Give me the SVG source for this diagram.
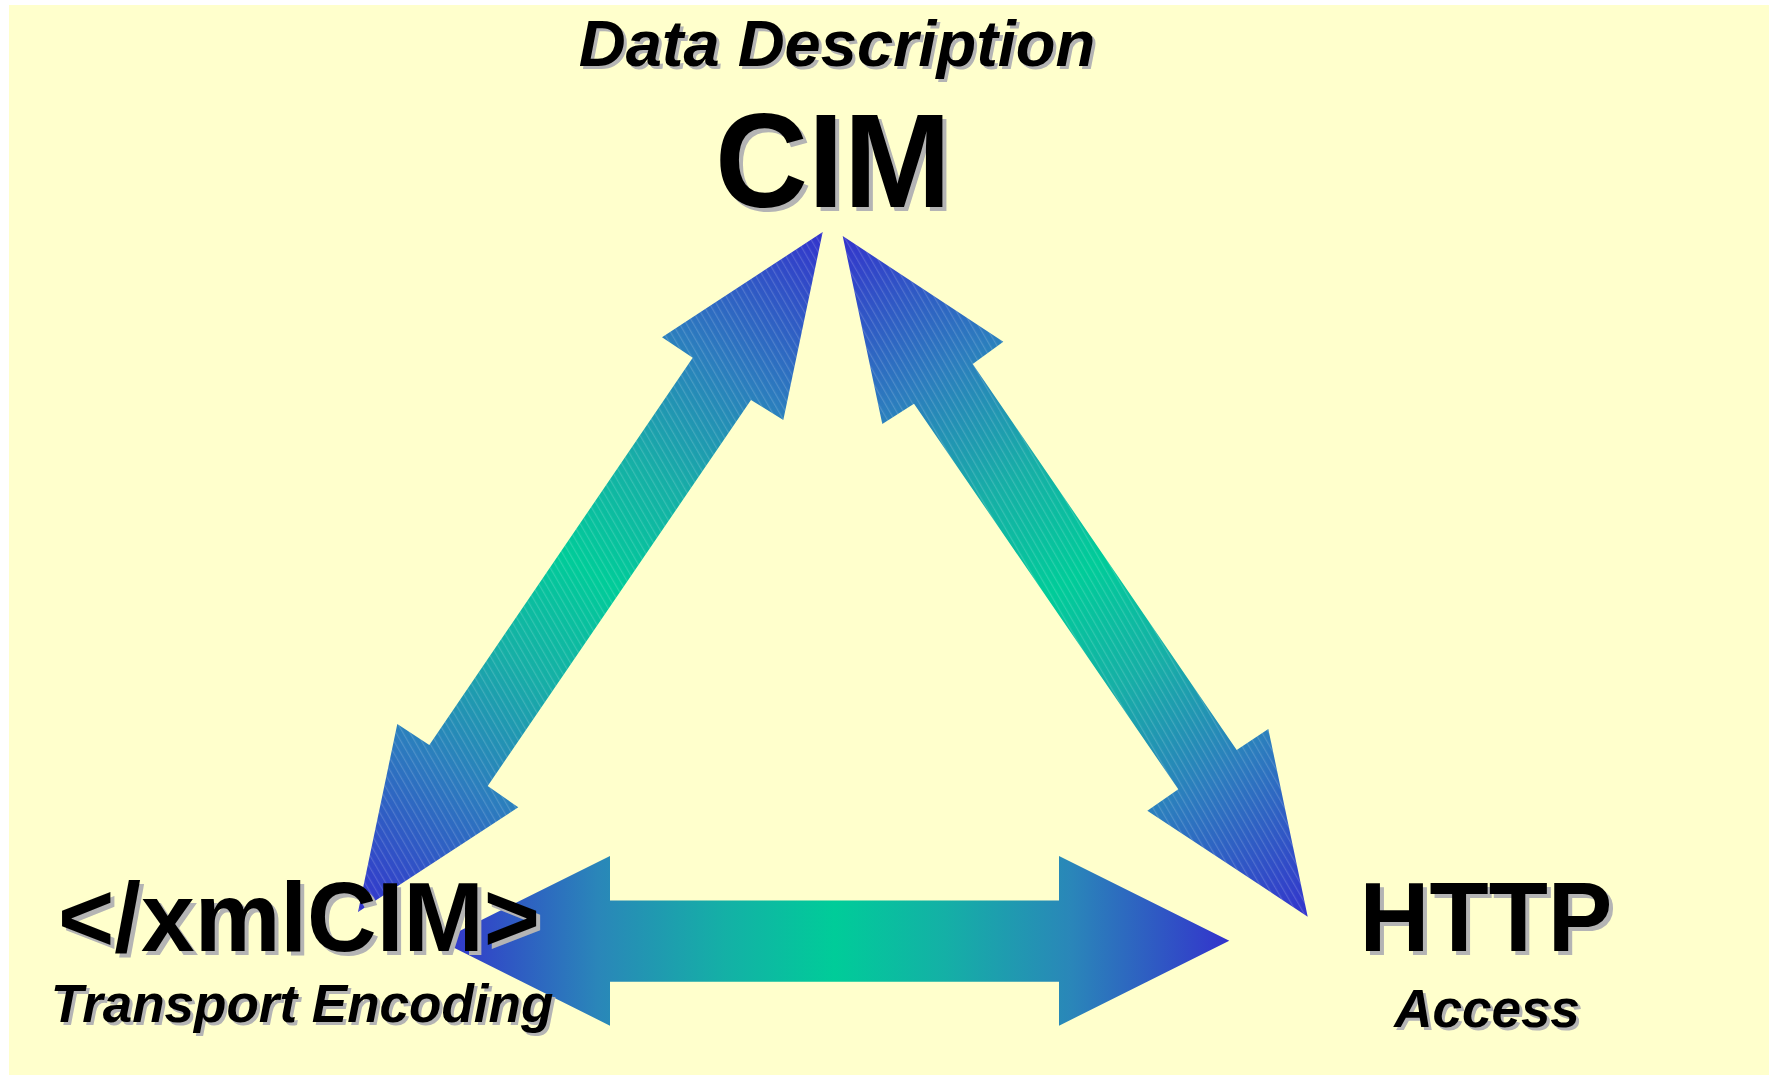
<svg xmlns="http://www.w3.org/2000/svg" width="1769" height="1075" viewBox="0 0 1769 1075">
  <style>
    .lbl { font-family: "Liberation Sans", Arial, sans-serif; font-weight: bold; fill: #000; text-anchor: middle; }
    .sh { fill: #B4B4B4; }
    .it { font-style: italic; }
  </style>
  <defs>
    <linearGradient id="gL" gradientUnits="userSpaceOnUse" x1="822.7" y1="232" x2="358" y2="912">
      <stop offset="0" stop-color="#3333CC"/>
      <stop offset="0.2" stop-color="#2C7CBE"/>
      <stop offset="0.36" stop-color="#16AFA6"/>
      <stop offset="0.5" stop-color="#00CC99"/>
      <stop offset="0.64" stop-color="#16AFA6"/>
      <stop offset="0.8" stop-color="#2C7CBE"/>
      <stop offset="1" stop-color="#3333CC"/>
    </linearGradient>
    <linearGradient id="gR" gradientUnits="userSpaceOnUse" x1="842.7" y1="236" x2="1307.7" y2="916.7">
      <stop offset="0" stop-color="#3333CC"/>
      <stop offset="0.2" stop-color="#2C7CBE"/>
      <stop offset="0.36" stop-color="#16AFA6"/>
      <stop offset="0.5" stop-color="#00CC99"/>
      <stop offset="0.64" stop-color="#16AFA6"/>
      <stop offset="0.8" stop-color="#2C7CBE"/>
      <stop offset="1" stop-color="#3333CC"/>
    </linearGradient>
    <linearGradient id="gH" gradientUnits="userSpaceOnUse" x1="440" y1="0" x2="1229.3" y2="0">
      <stop offset="0" stop-color="#3333CC"/>
      <stop offset="0.2" stop-color="#2A86B9"/>
      <stop offset="0.36" stop-color="#14B0A6"/>
      <stop offset="0.5" stop-color="#00CC99"/>
      <stop offset="0.64" stop-color="#14B0A6"/>
      <stop offset="0.8" stop-color="#2A86B9"/>
      <stop offset="1" stop-color="#3333CC"/>
    </linearGradient>
    <pattern id="hatch" width="6" height="6" patternUnits="userSpaceOnUse" patternTransform="rotate(-30)">
      <rect x="0" y="0" width="1.2" height="6" fill="#FFFFFF" fill-opacity="0.16"/>
    </pattern>
  </defs>

  <rect x="0" y="0" width="1769" height="1075" fill="#FFFFFF"/>
  <rect x="9" y="5" width="1760" height="1070" fill="#FFFFCC"/>

  <g id="connectors">
    <g id="arrow-cim-xmlcim">
      <polygon fill="url(#gL)" points="822.7,232 783.3,420 751,400 487.7,786 518.3,807.3 358,912 397.3,724 429.3,745 692.7,357.7 662,337.3"/>
      <polygon fill="url(#hatch)" points="822.7,232 783.3,420 751,400 487.7,786 518.3,807.3 358,912 397.3,724 429.3,745 692.7,357.7 662,337.3"/>
    </g>
    <g id="arrow-cim-http">
      <polygon fill="url(#gR)" points="842.7,236 1003.3,341.7 972.7,364 1236.7,750 1268.3,729 1307.7,916.7 1147.3,810.7 1178.3,789.3 914,403.7 882.3,424"/>
      <polygon fill="url(#hatch)" points="842.7,236 1003.3,341.7 972.7,364 1236.7,750 1268.3,729 1307.7,916.7 1147.3,810.7 1178.3,789.3 914,403.7 882.3,424"/>
    </g>
    <g id="arrow-xmlcim-http">
      <polygon fill="url(#gH)" points="440,940.7 610,856 610,900.5 1059,900.5 1059,856 1229.3,940.7 1059,1025.7 1059,981.7 610,981.7 610,1025.7"/>
    </g>
  </g>

  <g id="node-cim">
    <text class="lbl it sh" x="840" y="69" font-size="65">Data Description</text>
    <text class="lbl it" x="837" y="66" font-size="65">Data Description</text>
    <text class="lbl sh" x="837" y="211" font-size="134" textLength="236" lengthAdjust="spacingAndGlyphs">CIM</text>
    <text class="lbl" x="833" y="207" font-size="134" textLength="236" lengthAdjust="spacingAndGlyphs">CIM</text>
  </g>

  <g id="node-xmlcim">
    <text class="lbl sh" x="303" y="955" font-size="99" textLength="482" lengthAdjust="spacingAndGlyphs">&lt;/xmlCIM&gt;</text>
    <text class="lbl" x="299" y="951" font-size="99" textLength="482" lengthAdjust="spacingAndGlyphs">&lt;/xmlCIM&gt;</text>
    <text class="lbl it sh" x="305" y="1025" font-size="53">Transport Encoding</text>
    <text class="lbl it" x="302" y="1022" font-size="53">Transport Encoding</text>
  </g>

  <g id="node-http">
    <text class="lbl sh" x="1490" y="955" font-size="99" textLength="253" lengthAdjust="spacingAndGlyphs">HTTP</text>
    <text class="lbl" x="1486" y="951" font-size="99" textLength="253" lengthAdjust="spacingAndGlyphs">HTTP</text>
    <text class="lbl it sh" x="1490" y="1030" font-size="53">Access</text>
    <text class="lbl it" x="1487" y="1027" font-size="53">Access</text>
  </g>
</svg>
